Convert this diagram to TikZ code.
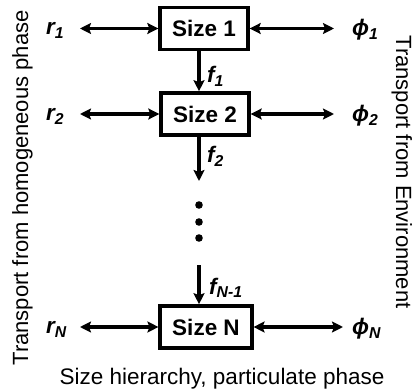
\documentclass[tikz,border=0pt]{standalone}
\usepackage{fontspec}
\setmainfont{Liberation Sans}
\usetikzlibrary{arrows.meta}
\newcommand{\lbl}[2]{{\bfseries\itshape #1\textsubscript{#2}}}
\begin{document}
\begin{tikzpicture}[x=1pt,y=-1pt,
  every node/.style={font=\fontsize{22.5}{27}\selectfont},
  sizebox/.style={draw,line width=3.6pt,inner xsep=12pt,inner ysep=0pt,minimum height=42pt,font=\fontsize{22.5}{27}\selectfont\bfseries},
  conn/.style={line width=3.1pt,{Stealth[length=11pt,width=11pt,inset=2pt]}-{Stealth[length=11pt,width=11pt,inset=2pt]}},
  flow/.style={line width=3.1pt,-{Stealth[length=11pt,width=11pt,inset=2pt]}},
  lab/.style={anchor=base west,inner sep=0pt},
  side/.style={inner sep=0pt,anchor=base,font=\fontsize{22}{26}\selectfont}]
\useasboundingbox (0,0) rectangle (415,390);
% boxes
\node[sizebox] (s1) at (204,28.5) {Size 1};
\node[sizebox] (s2) at (205,114) {Size 2};
\node[sizebox] (sN) at (206,327) {Size N};
% axis and free ends
\coordinate (axis) at (199,0);
\coordinate (l1) at (80,28.5);
\coordinate (l2) at (80,114);
\coordinate (lN) at (80,327);
\coordinate (p1) at (334,28.5);
\coordinate (p2) at (334,114);
\coordinate (pN) at (343,327);
\coordinate (f2end) at (199,181);
\coordinate (fNstart) at (199,265);
% horizontal connectors
\draw[conn] (l1) -- (s1.west);
\draw[conn] (l2) -- (s2.west);
\draw[conn] (lN) -- (sN.west);
\draw[conn] (s1.east) -- (p1);
\draw[conn] (s2.east) -- (p2);
\draw[conn] (sN.east) -- (pN);
% vertical flows
\draw[flow] (s1.south -| axis) -- (s2.north -| axis);
\draw[flow] (s2.south -| axis) -- (f2end);
\draw[flow] (fNstart) -- (sN.north -| axis);
% dots
\fill (199,205) circle (3.8);
\fill (199,222) circle (3.8);
\fill (199,238) circle (3.8);
% labels
\node[lab] (r1) at (46,35) {\lbl{r}{1}};
\node[lab] (r2) at (46,120.5) {\lbl{r}{2}};
\node[lab] (rN) at (46,333.5) {\lbl{r}{N}};
\node[lab] (ph1) at (352,36) {\lbl{ϕ}{1}};
\node[lab] (ph2) at (352,121.5) {\lbl{ϕ}{2}};
\node[lab] (phN) at (352,334.5) {\lbl{ϕ}{N}};
\node[lab] (f1) at (207,83) {\lbl{f}{1}};
\node[lab] (f2) at (207,163) {\lbl{f}{2}};
\node[lab] (fN) at (209,294) {\lbl{f}{N-1}};
% side texts
\node[side,rotate=90] (left) at (28,188) {Transport from homogeneous phase};
\node[side,rotate=-90] (right) at (396,172) {Transport from Environment};
\node[side,font=\fontsize{22.5}{27}\selectfont] (bottom) at (222,384) {Size hierarchy, particulate phase};
\end{tikzpicture}
\end{document}
